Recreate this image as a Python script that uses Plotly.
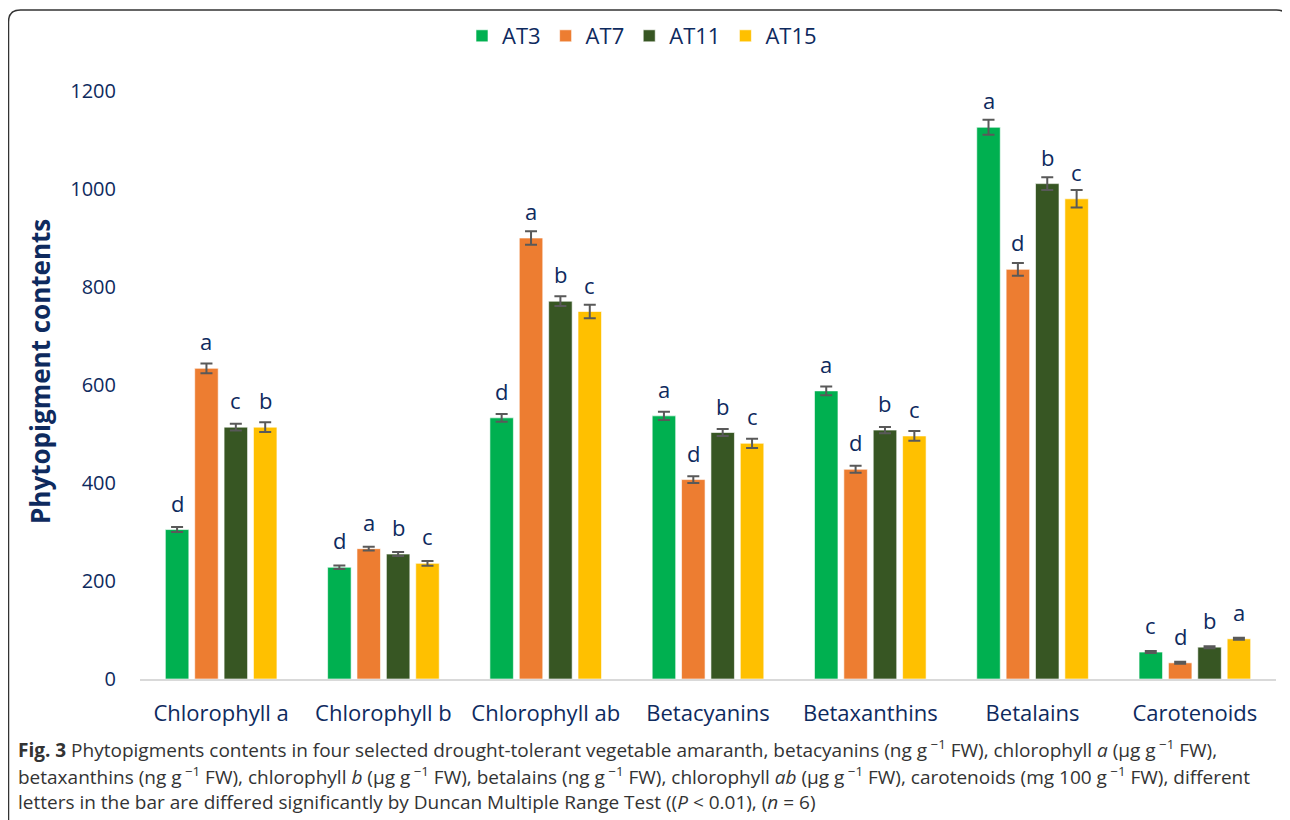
import plotly.graph_objects as go

categories = ["Chlorophyll a", "Chlorophyll b", "Chlorophyll ab", "Betacyanins",
              "Betaxanthins", "Betalains", "Carotenoids"]
series_names = ["AT3", "AT7", "AT11", "AT15"]

at3 = [305, 228, 533, 537, 588, 1126, 55]
at7 = [634, 266, 900, 407, 428, 836, 33]
at11 = [514, 255, 771, 503, 508, 1011, 65]
at15 = [514, 236, 750, 481, 496, 980, 82]

at3_err = [5, 3.5, 8, 8.5, 9, 15.5, 2]
at7_err = [10, 4, 14, 7, 7, 13, 2]
at11_err = [7, 4, 10, 7, 6.5, 13, 2]
at15_err = [10, 5, 14, 9.5, 10, 18, 2]

at3_letters = ["d", "d", "d", "a", "a", "a", "c"]
at7_letters = ["a", "a", "a", "d", "d", "d", "d"]
at11_letters = ["c", "b", "b", "b", "b", "b", "b"]
at15_letters = ["b", "c", "c", "c", "c", "c", "a"]

colors = ["#00B050", "#ED7D31", "#375623", "#FFC000"]

values = [at3, at7, at11, at15]
errors = [at3_err, at7_err, at11_err, at15_err]
letters = [at3_letters, at7_letters, at11_letters, at15_letters]

NAVY = "#0E2A5E"
FONT = "Open Sans"

OFF = 8  # page body margin
W, H = 1290 - OFF, 820 - OFF
ML, MR, MT, MB = 132, 14, 83, 141
PW, PH = W - ML - MR, H - MT - MB


def px(x):
    """page x pixel -> paper x"""
    return (x - OFF - ML) / PW


def py(y):
    """page y pixel -> paper y"""
    return (H - MB - (y - OFF)) / PH


bargap = 0.276
bargroupgap = 0.2
xs = list(range(len(categories)))

fig = go.Figure()
for k, name in enumerate(series_names):
    fig.add_trace(go.Bar(
        name=name, x=xs, y=values[k],
        marker=dict(color=colors[k], line=dict(color="rgba(255,255,255,0.6)", width=1)),
        error_y=dict(type="data", array=errors[k], color="#595959", thickness=2, width=6),
    ))

slot = (1 - bargap) / 4
annotations = []
for k in range(4):
    off = (k - 1.5) * slot
    for i, v in enumerate(values[k]):
        annotations.append(dict(
            x=i + off, y=v, xref="x", yref="y", text=letters[k][i],
            showarrow=False, yanchor="middle", yshift=27,
            font=dict(family=FONT, size=22, color=NAVY),
        ))

annotations.append(dict(
    x=px(40), y=py(372), xref="paper", yref="paper", text="<b>Phytopigment contents</b>",
    textangle=-90, showarrow=False, xanchor="center", yanchor="middle",
    font=dict(family=FONT, size=26, color=NAVY),
))

caption_lines = [
    "<b>Fig. 3</b> Phytopigments contents in four selected drought-tolerant vegetable amaranth, "
    "betacyanins (ng g<sup> −1</sup> FW), chlorophyll <i>a</i> (µg g<sup> −1</sup> FW),",
    "betaxanthins (ng g<sup> −1</sup> FW), chlorophyll <i>b</i> (µg g<sup> −1</sup> FW), "
    "betalains (ng g<sup> −1</sup> FW), chlorophyll <i>ab</i> (µg g<sup> −1</sup> FW), "
    "carotenoids (mg 100 g<sup> −1</sup> FW), different",
    "letters in the bar are differed significantly by Duncan Multiple Range Test "
    "((<i>P</i> &lt; 0.01), (<i>n</i> = 6)",
]
caption_y = [749, 776, 802]
for t, yy in zip(caption_lines, caption_y):
    annotations.append(dict(
        x=px(16), y=py(yy), xref="paper", yref="paper", text=t,
        showarrow=False, xanchor="left", yanchor="middle", align="left",
        font=dict(family=FONT, size=19, color="#333333"),
    ))

# rounded frame
x0, x1, y0, y1, r = px(8.5), px(1288.5), py(10), py(840), 12
rx, ry = r / PW, r / PH
frame_path = (f"M {x0},{y1} L {x0},{y0 - ry} Q {x0},{y0} {x0 + rx},{y0} "
              f"L {x1 - rx},{y0} Q {x1},{y0} {x1},{y0 - ry} L {x1},{y1}")

fig.update_layout(
    width=W, height=H,
    margin=dict(l=ML, r=MR, t=MT, b=MB, autoexpand=False),
    paper_bgcolor="white", plot_bgcolor="white",
    barmode="group", bargap=bargap, bargroupgap=bargroupgap,
    font=dict(family=FONT, color=NAVY),
    showlegend=True,
    legend=dict(orientation="h", x=px(642), xanchor="center", y=py(36), yanchor="middle",
                font=dict(family=FONT, size=22, color=NAVY), traceorder="normal",
                itemwidth=30),
    xaxis=dict(range=[-0.5, 6.5], tickmode="array", tickvals=xs, ticktext=categories,
               showline=True, linecolor="#D9D9D9", linewidth=2, showgrid=False,
               zeroline=False, ticks="", ticklabelstandoff=14, automargin=False,
               tickfont=dict(family=FONT, size=22, color=NAVY)),
    yaxis=dict(range=[0, 1200], tickvals=[0, 200, 400, 600, 800, 1000, 1200],
               showline=False, showgrid=False, zeroline=False, ticks="",
               ticklabelstandoff=23, automargin=False,
               tickfont=dict(family=FONT, size=20, color=NAVY)),
    annotations=annotations,
    shapes=[dict(type="path", path=frame_path, xref="paper", yref="paper",
                 line=dict(color="#333333", width=1.5), layer="above")],
)

fig.write_html("out.html")
